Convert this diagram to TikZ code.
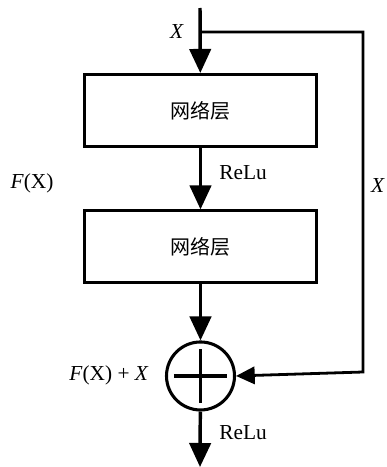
\documentclass[tikz,border=0pt]{standalone}
\usepackage{fontspec}
\setmainfont{Liberation Serif}
\newfontfamily\cjk{Noto Sans CJK SC}
\usepackage{tikz}
\usetikzlibrary{positioning,arrows.meta,calc}

\begin{document}
\begin{tikzpicture}[x=0.75pt,y=-0.75pt,node distance=46pt,
  blk/.style={draw,line width=2.3pt,minimum width=174pt,minimum height=54pt,font=\cjk\fontsize{15}{18}\selectfont},
  sumc/.style={draw,circle,line width=2.3pt,minimum size=51pt,inner sep=0pt},
  a/.style={-{Triangle[length=18pt,width=16pt]},line width=2.6pt},
  fb/.style={-{Triangle[length=14pt,width=13pt]},line width=2.1pt},
  lbl/.style={font=\fontsize{16}{19}\selectfont}]
  \useasboundingbox (0,0) rectangle (386,467);
  % input and layers
  \coordinate (in) at (200,8);
  \coordinate (br) at (200,32);
  \node[blk] (l1) at (200.5,110.5) {网络层};
  \node[blk,below=of l1] (l2) {网络层};
  \node[sumc,below=42pt of l2] (sum) {};
  \draw[line width=2.3pt] ($(sum)+(-20pt,0)$) -- ($(sum)+(20pt,0)$)
    ($(sum)+(0,-20pt)$) -- ($(sum)+(0,20pt)$);
  \coordinate (out) at (200,467);
  \coordinate (c1) at (363,32);
  \coordinate (c2) at (363,372);
  % connectors
  \draw[a] (in) -- (l1);
  \draw[a] (l1) -- (l2);
  \draw[a] (l2) -- (sum);
  \draw[a] (sum) -- (out);
  \draw[fb] (br) -- (c1) -- (c2) -- (sum.east);
  % labels
  \node[lbl] (xin) at (177,32) {\textit{X}};
  \node[lbl] (r1) at (243,173) {ReLu};
  \node[lbl] (fx) at (32,183) {\textit{F}(X)};
  \node[lbl] (xfb) at (378,186) {\textit{X}};
  \node[lbl] (fxx) at (109,375) {\textit{F}(X) + \textit{X}};
  \node[lbl] (r2) at (243,433) {ReLu};
\end{tikzpicture}
\end{document}
